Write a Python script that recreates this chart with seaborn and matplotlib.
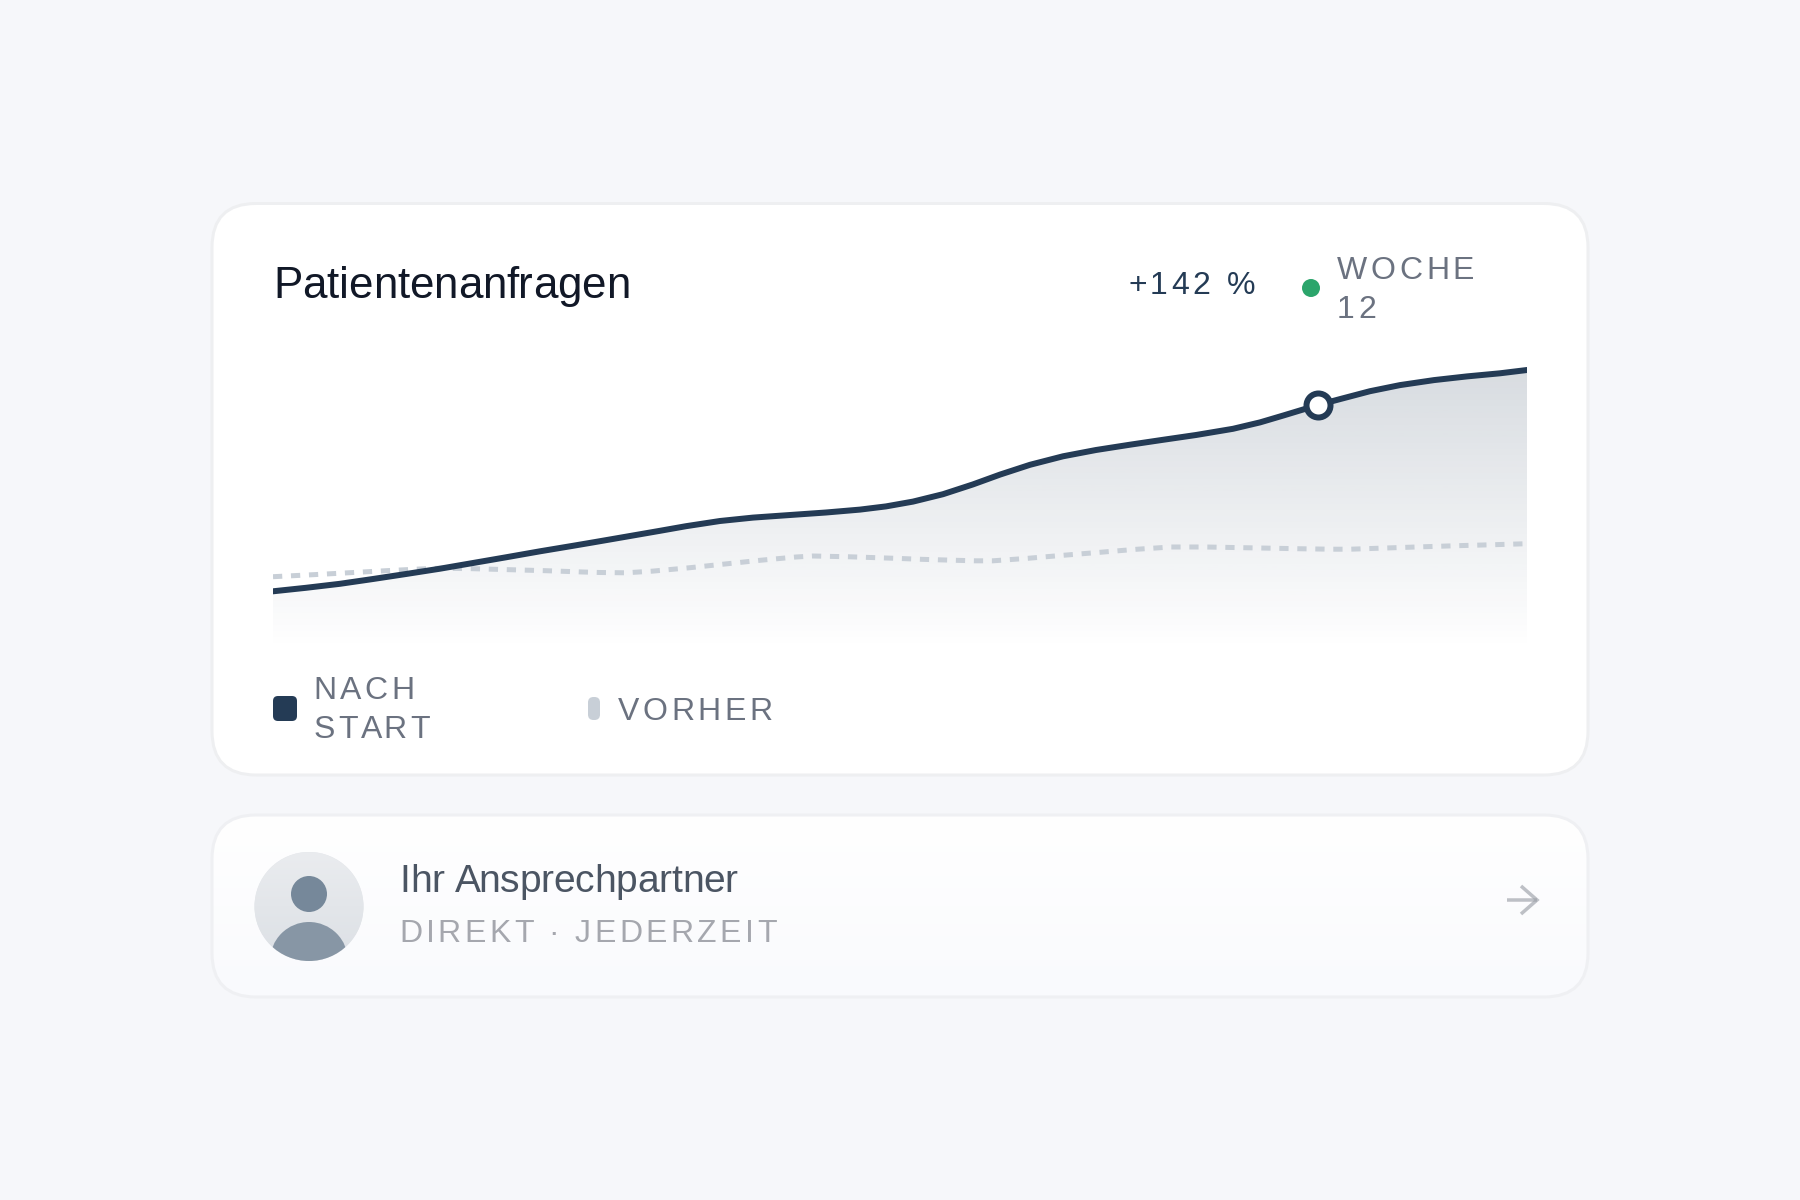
import numpy as np
import pandas as pd
import matplotlib
matplotlib.use("Agg")
import matplotlib.pyplot as plt
import seaborn as sns
from matplotlib.patches import FancyBboxPatch, Circle
from matplotlib.text import Text
from matplotlib.transforms import Bbox, IdentityTransform
from matplotlib.colors import to_rgb

# both curves, x and y in chart units
after_x = [0, 33, 67, 100, 133, 167, 200, 233, 267, 300,
           320, 353, 387, 413, 447, 480, 520, 553, 587, 613, 640,
           670, 700, 727, 757, 790, 823, 857, 890, 923, 960,
           987, 1011, 1045, 1067, 1097, 1127, 1161, 1194, 1227, 1254]
after_values = [58.7, 62.2, 66.2, 71, 76, 81.3, 87, 92.7, 98.7, 104.2,
                107.6, 113.3, 119.2, 123.8, 129, 132.4, 135.2, 137.5, 140.4, 143.6, 148.4,
                155.8, 165.6, 175.4, 185.2, 193.7, 200, 205.3, 210.2, 215, 221.2,
                227.6, 234.7, 245, 250.9, 258.8, 264.9, 269.9, 273.6, 276.7, 280]
before_x = [0, 40, 77, 113, 147, 167, 200, 237, 273, 310,
            327, 353, 380, 417, 452, 487, 523, 540, 577, 613, 630,
            648, 683, 702, 720, 755, 790, 827, 863, 898, 933,
            987, 1024, 1059, 1077, 1113, 1149, 1184, 1221, 1254]
before_values = [73.3, 75.3, 77.3, 79.3, 81, 81.8, 81.3, 80.3, 79.3, 78,
                 77.5, 77.2, 78.9, 82.3, 86, 89.7, 93, 94, 93.2, 92, 91.4,
                 90.7, 89.7, 89.2, 89.2, 91.7, 94.7, 97.7, 100.7, 103, 103,
                 102, 101.3, 100.8, 100.8, 102, 103.2, 104.3, 105.3, 106.3]
marker_x = [1045]
marker_y = [245.5]

title = "Patientenanfragen"
change_label = "+142 %"
week_lines = ["WOCHE", "12"]
after_lines = ["NACH", "START"]
before_label = "VORHER"
contact_title = "Ihr Ansprechpartner"
contact_sub = "DIREKT · JEDERZEIT"

NAVY = "#243b55"
GREY = "#6b7280"
PALE = "#c8cfd7"
W, H = 1800, 1200


def px(v):
    return v * 72 / 100


class SpacedText(Text):
    # matplotlib has no letter spacing, so the glyphs get placed one by one on draw
    def __init__(self, x, y, s, spacing=0, **kw):
        super().__init__(x, y, s, **kw)
        self.spacing = spacing

    def draw(self, renderer):
        x0, y0 = self.get_transform().transform(self.get_position())
        fp = self.get_fontproperties()
        s = self.get_text()
        for i, ch in enumerate(s):
            w = renderer.get_text_width_height_descent(s[:i], fp, False)[0] if i else 0
            t = Text(x0 + w + i * self.spacing, y0, ch, color=self.get_color(), fontproperties=fp,
                     va="baseline", ha="left", transform=IdentityTransform())
            t.set_figure(self.get_figure())
            t.draw(renderer)

    def get_window_extent(self, renderer=None, dpi=None):
        b = super().get_window_extent(renderer, dpi)
        return Bbox.from_extents(b.x0, b.y0, b.x1 + self.spacing * (len(self.get_text()) - 1), b.y1)


def label(ax, x, y, s, size, color, spacing=0):
    t = SpacedText(x, y, s, spacing=spacing, color=color, fontsize=px(size), va="baseline", ha="left")
    ax.add_artist(t)
    return t


def rounded(ax, x0, y0, x1, y1, r, **kw):
    p = FancyBboxPatch((x0 + r, y0 + r), x1 - x0 - 2 * r, y1 - y0 - 2 * r,
                       boxstyle=f"round,pad={r},rounding_size={r}", **kw)
    ax.add_patch(p)
    return p


def v_gradient(ax, top, bottom, extent, clip, zorder):
    rows = np.linspace(0, 1, 256)[:, None, None]
    img = (1 - rows) * np.array(top)[None, None, :] + rows * np.array(bottom)[None, None, :]
    im = ax.imshow(img, extent=extent, aspect="auto", zorder=zorder, interpolation="bilinear")
    im.set_clip_path(clip)
    return im


sns.set_theme(style="white")
plt.rcParams["font.family"] = ["Liberation Sans", "DejaVu Sans"]

fig = plt.figure(figsize=(18, 12), dpi=100, facecolor="#f6f7fa")

# page layer in pixel coordinates: cards, avatar, texts
bg = fig.add_axes([0, 0, 1, 1])
bg.set_axis_off()

rounded(bg, 212, 203.5, 1588, 775, 44, fc="white", ec="#eeeff1", lw=px(3), zorder=1)

card2 = rounded(bg, 212, 815, 1588, 997, 44, fc="#fcfcfe", ec="none", zorder=1)
v_gradient(bg, to_rgb("#ffffff"), to_rgb("#f9fafd"), (212, 1588, 997, 815), card2, 2)
rounded(bg, 212, 815, 1588, 997, 44, fc="none", ec="#eff0f3", lw=px(3), zorder=3)

# avatar
avatar = Circle((309, 906.5), 54.5, fc="#e3e6ea", ec="none", zorder=4)
bg.add_patch(avatar)
v_gradient(bg, to_rgb("#eaecef"), to_rgb("#dce0e5"), (254, 364, 961, 852), avatar, 4)
bg.add_patch(Circle((309, 894), 18, fc="#76889a", ec="none", zorder=5))
body = Circle((309, 961), 39, fc="#8796a5", ec="none", zorder=5)
bg.add_patch(body)
body.set_clip_path(avatar)

# arrow
bg.plot([1507, 1537], [900, 900], color="#9ca0a8", alpha=0.65, lw=px(3.5), solid_capstyle="butt", zorder=5)
bg.plot([1521, 1537, 1521], [886, 900, 914], color="#9ca0a8", alpha=0.65, lw=px(3.5),
        solid_capstyle="butt", solid_joinstyle="miter", zorder=5)

# header and legend marks
bg.add_patch(Circle((1311, 288), 9, fc="#2ba56b", ec="none", zorder=5))
rounded(bg, 273, 696, 297, 721, 5, fc=NAVY, ec="none", zorder=5)
rounded(bg, 588, 697, 600, 720, 5.5, fc=PALE, ec="none", zorder=5)

bg.set_xlim(0, W)
bg.set_ylim(H, 0)

label(bg, 273, 298, title, 44, "#111827", spacing=-0.15)
label(bg, 1128, 294, change_label, 32, NAVY, spacing=3.5)
label(bg, 1337, 279, week_lines[0], 32, GREY, spacing=3.6)
label(bg, 1337, 318, week_lines[1], 32, GREY, spacing=3.6)
label(bg, 313.5, 699, after_lines[0], 32, GREY, spacing=3.4)
label(bg, 313.5, 738, after_lines[1], 32, GREY, spacing=3.4)
label(bg, 618, 720, before_label, 32, GREY, spacing=3.4)
label(bg, 399.5, 892, contact_title, 39, "#4b5563", spacing=-0.25)
label(bg, 399, 942, contact_sub, 32, "#a5a7ae", spacing=3.4)

# chart layer
left, right, top, bottom = 273, 1527, 356, 650
ax = fig.add_axes([left / W, 1 - bottom / H, (right - left) / W, (bottom - top) / H])
ax.patch.set_alpha(0)
ax.set_axis_off()

after_df = pd.DataFrame({"x": after_x, "y": after_values})
before_df = pd.DataFrame({"x": before_x, "y": before_values})

fill = ax.fill_between(after_df["x"], after_df["y"], 0, color="none", lw=0)
peak = max(after_values)
rows = np.linspace(0, 1, 256)
grad = np.zeros((256, 1, 4))
grad[:, 0, :3] = to_rgb(NAVY)
grad[:, 0, 3] = 0.18 * (1 - rows)
im = ax.imshow(grad, extent=(0, 1254, 0, peak), aspect="auto", zorder=1, origin="upper")
im.set_clip_path(fill.get_paths()[0], ax.transData)

sns.lineplot(data=before_df, x="x", y="y", ax=ax, color=PALE, lw=px(5), errorbar=None,
             linestyle=(0, (1.85, 1.75)), zorder=2)
sns.lineplot(data=after_df, x="x", y="y", ax=ax, color=NAVY, lw=px(6), errorbar=None, zorder=3)
sns.scatterplot(x=marker_x, y=marker_y, ax=ax, s=px(24) ** 2, color="white", edgecolor=NAVY,
                linewidth=px(6), zorder=4, clip_on=False)

ax.set_xlim(0, 1254)
ax.set_ylim(0, 294)
ax.set_axis_off()

fig.savefig("out.png", dpi=100, facecolor=fig.get_facecolor())
